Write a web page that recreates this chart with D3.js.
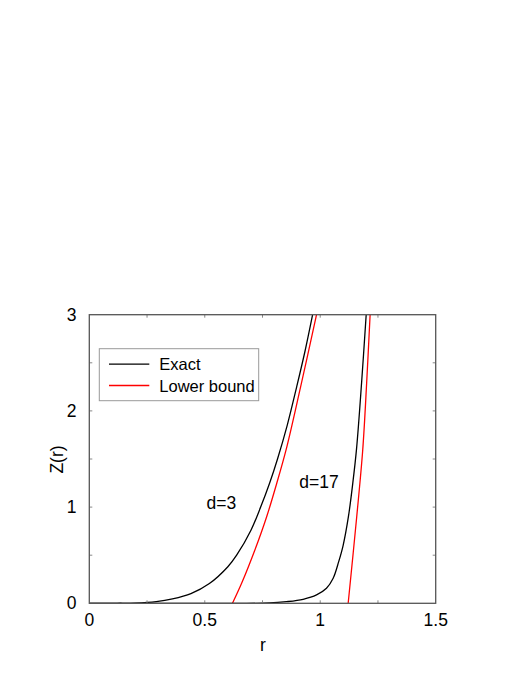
<!DOCTYPE html>
<html><head><meta charset="utf-8">
<script src="https://cdn.jsdelivr.net/npm/d3@7"></script>
<style>body{margin:0;background:#fff}svg{display:block}text{font-family:"Liberation Sans",Arial,sans-serif}</style>
</head><body><svg id="c" width="526" height="681"></svg>
<script>
const exactD3 = [[0,0],[0.12,0.0002],[0.2,0.002],[0.29,0.017],[0.36,0.045],[0.44,0.10],[0.52,0.205],[0.60,0.38],[0.638,0.50],[0.70,0.76],[0.742,1.0],[0.781,1.25],[0.815,1.50],[0.857,1.85],[0.898,2.25],[0.934,2.62],[0.967,3.0]];
const lowerD3 = [[0.620,0],[0.660,0.21],[0.717,0.554],[0.768,0.90],[0.812,1.25],[0.852,1.594],[0.915,2.25],[0.984,3.0]];
const exactD17 = [[0,0],[0.6,0],[0.78,0.003],[0.854,0.017],[0.926,0.042],[0.984,0.087],[1.027,0.156],[1.056,0.26],[1.080,0.433],[1.099,0.60],[1.122,0.90],[1.141,1.25],[1.157,1.60],[1.179,2.29],[1.199,3.0]];
const lowerD17 = [[1.121,0],[1.158,0.90],[1.184,1.594],[1.201,2.29],[1.216,3.0]];
const xTicks = [0,0.5,1,1.5];
const yTicks = [0,1,2,3];
const xMinor = [0.25,0.5,0.75,1,1.25];
const yMinor = [0.5,1,1.5,2,2.5];
const labels = [{t:"d=3",r:0.508,z:0.98},{t:"d=17",r:0.909,z:1.20}];
const legendItems = [{t:"Exact",c:"#000"},{t:"Lower bound",c:"#ff0000"}];

const svg = d3.select("#c");
const L=89.3,R=435.7,T=314.7,B=603.3;
const x = d3.scaleLinear().domain([0,1.5]).range([L,R]);
const y = d3.scaleLinear().domain([0,3]).range([B,T]);

svg.append("defs").append("clipPath").attr("id","cp").append("rect")
  .attr("x",L).attr("y",T).attr("width",R-L).attr("height",B-T);

const line = d3.line().x(d=>x(d[0])).y(d=>y(d[1])).curve(d3.curveCatmullRom.alpha(0.5));
const g = svg.append("g").attr("clip-path","url(#cp)");
[[exactD3,"#000"],[lowerD3,"#ff0000"],[exactD17,"#000"],[lowerD17,"#ff0000"]].forEach(([d,c])=>{
  g.append("path").attr("d",line(d)).attr("fill","none").attr("stroke",c).attr("stroke-width",1.3);
});

const tk = svg.append("g").attr("stroke","#888").attr("stroke-width",1);
xMinor.forEach(v=>{
  tk.append("line").attr("x1",x(v)).attr("x2",x(v)).attr("y1",B).attr("y2",B-3);
  tk.append("line").attr("x1",x(v)).attr("x2",x(v)).attr("y1",T).attr("y2",T+3);
});
yMinor.forEach(v=>{
  tk.append("line").attr("x1",L).attr("x2",L+3).attr("y1",y(v)).attr("y2",y(v));
  tk.append("line").attr("x1",R).attr("x2",R-3).attr("y1",y(v)).attr("y2",y(v));
});

svg.append("rect").attr("x",L).attr("y",T).attr("width",R-L).attr("height",B-T)
  .attr("fill","none").attr("stroke","#555").attr("stroke-width",1.3);

xTicks.forEach(v=>svg.append("text").attr("x",x(v)).attr("y",625.7).attr("text-anchor","middle")
  .attr("font-size",17.5).text(v));
yTicks.forEach(v=>svg.append("text").attr("x",76.5).attr("y",y(v)+6).attr("text-anchor","end")
  .attr("font-size",17.5).text(v));

svg.append("text").attr("x",263).attr("y",650.7).attr("text-anchor","middle").attr("font-size",17.5).text("r");
svg.append("text").attr("transform","translate(62.5,459.5) rotate(-90)").attr("text-anchor","middle")
  .attr("font-size",17.5).text("Z(r)");

labels.forEach(l=>svg.append("text").attr("x",x(l.r)).attr("y",y(l.z)).attr("font-size",17.5).text(l.t));

const lg = svg.append("g");
lg.append("rect").attr("x",99.3).attr("y",348.7).attr("width",159.4).attr("height",52)
  .attr("fill","#fff").attr("stroke","#999").attr("stroke-width",1);
legendItems.forEach((it,i)=>{
  const yy = 364.2 + i*21.3;
  lg.append("line").attr("x1",109).attr("x2",149.3).attr("y1",yy).attr("y2",yy).attr("stroke",it.c).attr("stroke-width",1.3);
  lg.append("text").attr("x",159.3).attr("y",yy+6).attr("font-size",16.5).text(it.t);
});
</script></body></html>
